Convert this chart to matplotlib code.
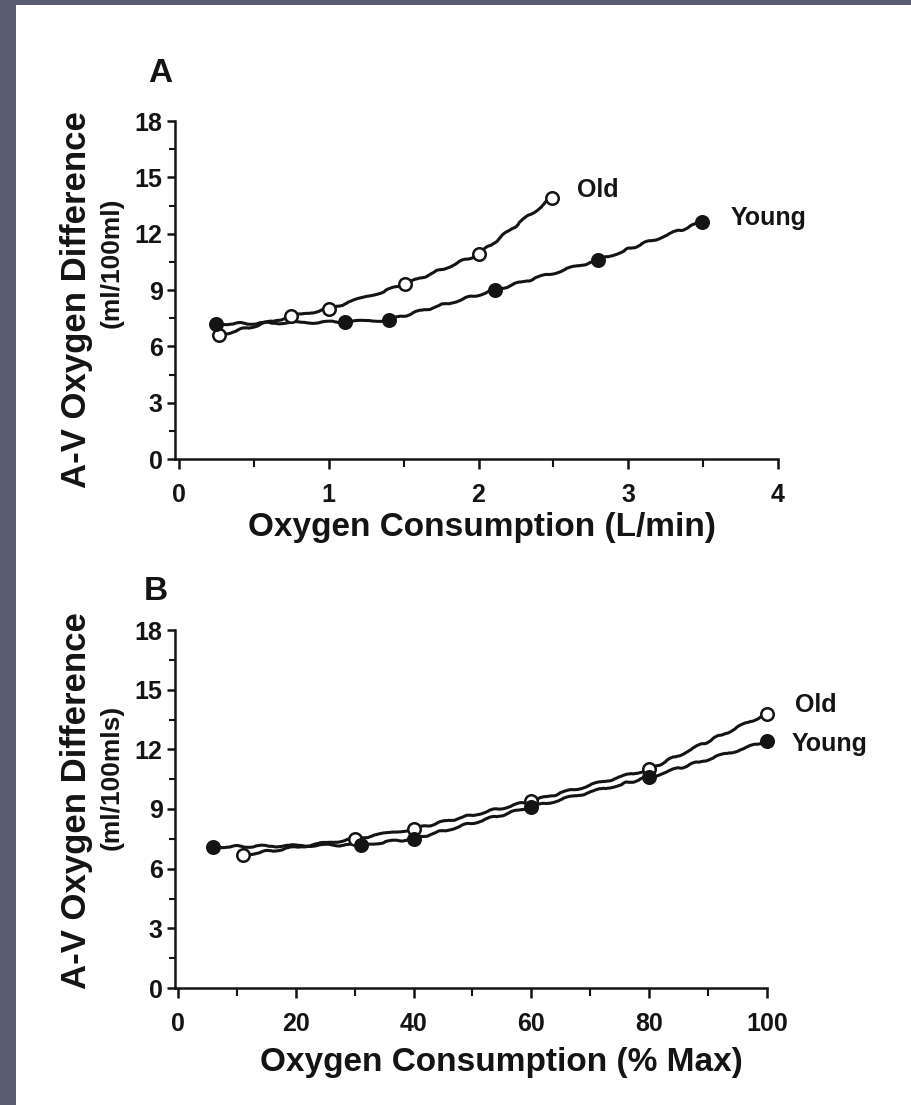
import numpy as np
import matplotlib
matplotlib.use("Agg")
import matplotlib.pyplot as plt
from matplotlib.patches import Rectangle
from matplotlib.ticker import MultipleLocator

plt.rcParams['font.family'] = ['Liberation Sans', 'DejaVu Sans']
plt.rcParams['font.weight'] = 'bold'

# panel A: a-v O2 difference vs absolute oxygen uptake (L/min)
a_old_x = [0.27, 0.75, 1.0, 1.51, 2.0, 2.49]
a_old_y = [6.6, 7.6, 8.0, 9.3, 10.9, 13.9]
a_young_x = [0.25, 1.11, 1.40, 2.11, 2.80, 3.49]
a_young_y = [7.2, 7.3, 7.4, 9.0, 10.6, 12.6]

# panel B: same data against relative uptake (% of max)
b_old_x = [11, 30, 40, 60, 80, 100]
b_old_y = [6.7, 7.5, 8.0, 9.4, 11.0, 13.8]
b_young_x = [6, 31, 40, 60, 80, 100]
b_young_y = [7.1, 7.2, 7.5, 9.1, 10.6, 12.4]

W, H = 911, 1105
fig = plt.figure(figsize=(W / 100, H / 100), dpi=100)
fig.patch.set_facecolor('#5a5c71')
# white page area
fig.add_artist(Rectangle((16 / W, 0), 1 - 16 / W, 1 - 5 / H,
                         transform=fig.transFigure, facecolor='white',
                         edgecolor='none', zorder=-10))

ink = '#141414'


def px(x, y):
    # pixel position -> figure fraction
    return x / W, 1 - y / H


def draw_series(ax, x, y, filled):
    ln, = ax.plot(x, y, color=ink, lw=2.2, solid_capstyle='round', clip_on=False, zorder=3)
    ln.set_sketch_params(scale=1.0, length=40, randomness=4)
    ax.plot(x, y, ls='none', marker='o', ms=9, mew=1.8, mec=ink,
            mfc=ink if filled else 'white', clip_on=False, zorder=4)


def style_axes(ax, xmaj, xmin):
    for s in ['top', 'right']:
        ax.spines[s].set_visible(False)
    for s in ['left', 'bottom']:
        ax.spines[s].set_linewidth(1.8)
        ax.spines[s].set_color(ink)
    ax.set_ylim(0, 18)
    ax.yaxis.set_major_locator(MultipleLocator(3))
    ax.yaxis.set_minor_locator(MultipleLocator(1.5))
    ax.xaxis.set_major_locator(MultipleLocator(xmaj))
    ax.xaxis.set_minor_locator(MultipleLocator(xmin))
    ax.tick_params(axis='y', which='major', length=6, width=1.8, pad=3,
                   labelsize=18, colors=ink)
    ax.tick_params(axis='y', which='minor', length=4, width=1.5, colors=ink)
    ax.tick_params(axis='x', which='major', length=7, width=1.8, pad=10,
                   labelsize=18, colors=ink)
    ax.tick_params(axis='x', which='minor', length=6, width=1.5, colors=ink)
    ax.set_facecolor('none')


# ---- panel A ----
l, b = px(175, 459)
r, t = px(778, 121)
axA = fig.add_axes([l, b, r - l, t - b])
axA.set_xlim(-0.027, 4.0)
style_axes(axA, 1, 0.5)
draw_series(axA, a_old_x, a_old_y, filled=False)
draw_series(axA, a_young_x, a_young_y, filled=True)
axA.annotate('Old', (a_old_x[-1], a_old_y[-1]), xytext=(18, 6), textcoords='offset points',
             fontsize=18, va='center', ha='left', color=ink)
axA.annotate('Young', (a_young_x[-1], a_young_y[-1]), xytext=(21, 3), textcoords='offset points',
             fontsize=18, va='center', ha='left', color=ink)

fig.text(*px(160, 73), 'A', fontsize=24, ha='center', va='center', color=ink)
fig.text(*px(77, 300), 'A-V Oxygen Difference', rotation=90, fontsize=25,
         ha='center', va='center', color=ink)
fig.text(*px(112, 263), '(ml/100ml)', rotation=90, fontsize=19,
         ha='center', va='center', color=ink)
fig.text(*px(482, 527), 'Oxygen Consumption (L/min)', fontsize=24,
         ha='center', va='center', color=ink)

# ---- panel B ----
l, b = px(175, 988)
r, t = px(767, 630)
axB = fig.add_axes([l, b, r - l, t - b])
axB.set_xlim(-0.5, 100)
style_axes(axB, 20, 10)
draw_series(axB, b_old_x, b_old_y, filled=False)
draw_series(axB, b_young_x, b_young_y, filled=True)
axB.annotate('Old', (b_old_x[-1], b_old_y[-1]), xytext=(20, 6), textcoords='offset points',
             fontsize=18, va='center', ha='left', color=ink)
axB.annotate('Young', (b_young_x[-1], b_young_y[-1]), xytext=(18, -2), textcoords='offset points',
             fontsize=18, va='center', ha='left', color=ink)

fig.text(*px(156, 592), 'B', fontsize=24, ha='center', va='center', color=ink)
fig.text(*px(77, 801), 'A-V Oxygen Difference', rotation=90, fontsize=25,
         ha='center', va='center', color=ink)
fig.text(*px(112, 777), '(ml/100mls)', rotation=90, fontsize=19,
         ha='center', va='center', color=ink)
fig.text(*px(501, 1063), 'Oxygen Consumption (% Max)', fontsize=24,
         ha='center', va='center', color=ink)

fig.savefig('out.png', dpi=100, facecolor=fig.get_facecolor())
